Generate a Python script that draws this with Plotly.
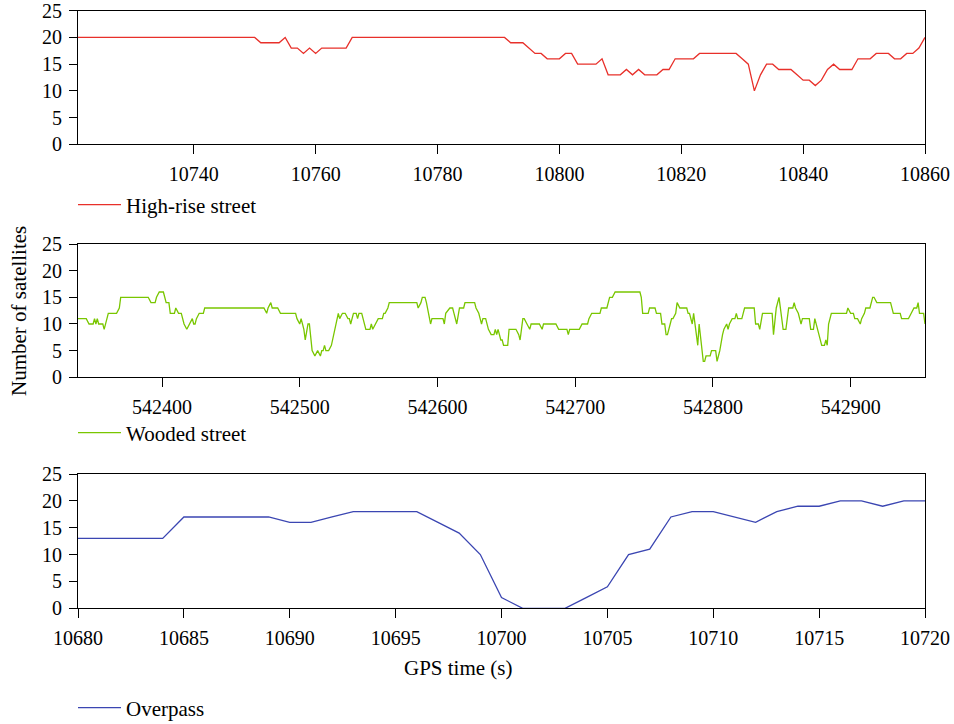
import plotly.graph_objects as go

# ---------------- data ----------------
high_t = [10721, 10750, 10751, 10754, 10755, 10756, 10757, 10758, 10759, 10760, 10761, 10765,
          10766, 10791, 10792, 10794, 10796, 10797, 10798, 10800, 10801, 10802, 10803, 10806,
          10807, 10808, 10810, 10811, 10812, 10813, 10814, 10816, 10817, 10818, 10819, 10822,
          10823, 10829, 10830, 10831, 10832, 10833, 10834, 10835, 10836, 10838, 10839, 10840,
          10841, 10842, 10843, 10844, 10845, 10846, 10848, 10849, 10851, 10852, 10854, 10855,
          10856, 10857, 10858, 10859, 10860]
high_v = [20, 20, 19, 19, 20, 18, 18, 17, 18, 17, 18, 18,
          20, 20, 19, 19, 17, 17, 16, 16, 17, 17, 15, 15,
          16, 13, 13, 14, 13, 14, 13, 13, 14, 14, 16, 16,
          17, 17, 16, 15, 10, 13, 15, 15, 14, 14, 13, 12,
          12, 11, 12, 14, 15, 14, 14, 16, 16, 17, 17, 16,
          16, 17, 17, 18, 20]

wood_t = [542339, 542345, 542347, 542350, 542351, 542352, 542353, 542354, 542357, 542358,
          542361, 542367, 542369, 542370, 542390, 542392, 542395, 542396, 542398, 542401,
          542403, 542405, 542406, 542409, 542410, 542412, 542414, 542416, 542418, 542420,
          542422, 542423, 542424, 542425, 542427, 542430, 542431, 542474, 542476, 542477,
          542479, 542480, 542484, 542486, 542497, 542498, 542500, 542501, 542502, 542503,
          542504, 542506, 542507, 542509, 542511, 542513, 542515, 542516, 542517, 542518,
          542519, 542521, 542523, 542526, 542528, 542529, 542531, 542533, 542535, 542536,
          542537, 542539, 542541, 542542, 542543, 542545, 542548, 542551, 542552, 542553,
          542555, 542557, 542560, 542561, 542562, 542564, 542565, 542585, 542586, 542588,
          542589, 542591, 542592, 542595, 542596, 542604, 542605, 542606, 542609, 542611,
          542612, 542614, 542616, 542619, 542620, 542627, 542628, 542630, 542631, 542632,
          542633, 542635, 542637, 542639, 542641, 542642, 542643, 542644, 542646, 542647,
          542648, 542651, 542652, 542657, 542659, 542660, 542662, 542663, 542665, 542667,
          542668, 542674, 542676, 542677, 542686, 542688, 542694, 542695, 542696, 542703,
          542705, 542709, 542710, 542712, 542718, 542719, 542723, 542725, 542727, 542729,
          542747, 542748, 542749, 542753, 542754, 542758, 542759, 542762, 542763, 542765,
          542766, 542767, 542769, 542770, 542771, 542773, 542774, 542776, 542781, 542782,
          542783, 542785, 542786, 542787, 542788, 542789, 542790, 542792, 542793, 542794,
          542795, 542798, 542799, 542802, 542803, 542804, 542805, 542807, 542808, 542810,
          542811, 542812, 542814, 542816, 542817, 542818, 542821, 542822, 542823, 542830,
          542831, 542833, 542834, 542836, 542843, 542844, 542846, 542848, 542850, 542851,
          542853, 542855, 542858, 542859, 542860, 542862, 542864, 542865, 542867, 542870,
          542871, 542873, 542874, 542876, 542877, 542878, 542879, 542881, 542882, 542883,
          542884, 542886, 542897, 542898, 542900, 542902, 542903, 542905, 542907, 542908,
          542910, 542911, 542914, 542916, 542917, 542919, 542929, 542931, 542936, 542937,
          542942, 542944, 542946, 542948, 542949, 542950, 542953, 542954]
wood_v = [11, 11, 10, 10, 11, 10, 11, 10, 10, 9,
          12, 12, 13, 15, 15, 14, 14, 15, 16, 16,
          14, 14, 12, 12, 13, 12, 12, 10, 9, 10,
          11, 10, 10, 11, 12, 12, 13, 13, 12, 13,
          14, 13, 13, 12, 12, 11, 10, 11, 10, 9,
          7, 10, 10, 5, 4, 5, 4, 5, 5, 6,
          5, 5, 6, 10, 12, 11, 12, 12, 11, 11,
          10, 12, 12, 11, 12, 12, 9, 9, 10, 9,
          10, 11, 11, 12, 12, 13, 14, 14, 13, 14,
          15, 15, 14, 10, 11, 11, 10, 12, 13, 13,
          12, 10, 13, 13, 14, 14, 13, 12, 11, 10,
          11, 11, 9, 8, 8, 9, 8, 9, 7, 7,
          6, 6, 9, 9, 8, 7, 11, 11, 10, 9,
          10, 10, 9, 10, 10, 9, 9, 8, 9, 9,
          10, 10, 11, 12, 12, 13, 13, 15, 15, 16,
          16, 15, 12, 12, 13, 13, 12, 12, 10, 10,
          8, 8, 10, 11, 11, 12, 14, 13, 13, 12,
          12, 10, 12, 10, 8, 6, 10, 6, 3, 3,
          4, 4, 5, 5, 3, 4, 5, 8, 9, 10,
          9, 10, 11, 11, 12, 11, 11, 12, 13, 13,
          10, 10, 9, 12, 12, 8, 13, 15, 11, 9,
          9, 13, 13, 14, 13, 12, 10, 11, 11, 11,
          9, 9, 11, 9, 8, 7, 6, 6, 7, 6,
          10, 12, 12, 13, 12, 12, 11, 11, 10, 11,
          12, 13, 13, 15, 15, 14, 14, 12, 12, 11,
          11, 12, 13, 13, 14, 12, 12, 10]

over_t = list(range(10680, 10721))
over_v = [13, 13, 13, 13, 13, 17, 17, 17, 17, 17,
          16, 16, 17, 18, 18, 18, 18, 16, 14, 10,
          2, 0, 0, 0, 2, 4, 10, 11, 17, 18,
          18, 17, 16, 18, 19, 19, 20, 20, 19, 20,
          20]

series_names = ["High-rise street", "Wooded street", "Overpass"]
colors = ["#e8302a", "#79c600", "#3b46b2"]
top_ticks = [10740, 10760, 10780, 10800, 10820, 10840, 10860]
mid_ticks = [542400, 542500, 542600, 542700, 542800, 542900]
bot_ticks = [10680, 10685, 10690, 10695, 10700, 10705, 10710, 10715, 10720]
y_ticks = [0, 5, 10, 15, 20, 25]

# ---------------- figure ----------------
FONT = "Liberation Serif"
W, H = 954, 724


def fx(px):
    return px / W


def fy(py):
    return (H - py) / H


fig = go.Figure()
fig.add_trace(go.Scatter(x=high_t, y=high_v, mode="lines", name=series_names[0],
                         line=dict(color=colors[0], width=1.3), xaxis="x", yaxis="y",
                         legend="legend"))
fig.add_trace(go.Scatter(x=wood_t, y=wood_v, mode="lines", name=series_names[1],
                         line=dict(color=colors[1], width=1.3), xaxis="x2", yaxis="y2",
                         legend="legend2"))
fig.add_trace(go.Scatter(x=over_t, y=over_v, mode="lines", name=series_names[2],
                         line=dict(color=colors[2], width=1.3), xaxis="x3", yaxis="y3",
                         legend="legend3"))

xdom = [fx(78), fx(925)]
axis_common = dict(showline=True, linecolor="black", linewidth=1.2, mirror=True,
                   ticks="outside", ticklen=9, tickcolor="black", tickwidth=1.2,
                   showgrid=False, zeroline=False, tickformat="d", automargin=False,
                   ticklabeloverflow="allow",
                   tickfont=dict(family=FONT, size=20, color="black"))
xaxis_common = dict(axis_common, domain=xdom, ticklabelstandoff=3)
yaxis_common = dict(axis_common, range=[0, 25], tickvals=y_ticks, ticklen=8,
                    ticklabelstandoff=3)

leg_common = dict(x=fx(73), xanchor="left", yanchor="middle", itemwidth=43,
                  font=dict(family=FONT, size=21, color="black"),
                  bgcolor="rgba(0,0,0,0)")

fig.update_layout(
    width=W, height=H,
    margin=dict(l=0, r=0, t=0, b=0, autoexpand=False),
    plot_bgcolor="white", paper_bgcolor="white",
    font=dict(family=FONT, size=20, color="black"),
    xaxis=dict(xaxis_common, range=[10721, 10860], tickvals=top_ticks, anchor="y"),
    yaxis=dict(yaxis_common, domain=[fy(144.3), fy(10.7)], anchor="x"),
    xaxis2=dict(xaxis_common, range=[542339, 542954], tickvals=mid_ticks, anchor="y2"),
    yaxis2=dict(yaxis_common, domain=[fy(377.3), fy(244)], anchor="x2"),
    xaxis3=dict(xaxis_common, range=[10680, 10720], tickvals=bot_ticks, anchor="y3"),
    yaxis3=dict(yaxis_common, domain=[fy(608.3), fy(474)], anchor="x3"),
    showlegend=True,
    legend=dict(leg_common, y=fy(205)),
    legend2=dict(leg_common, y=fy(433)),
    legend3=dict(leg_common, y=fy(708)),
    annotations=[
        dict(text="Number of satellites", textangle=-90, xref="paper", yref="paper",
             x=fx(19), y=fy(311), xanchor="center", yanchor="middle", showarrow=False,
             font=dict(family=FONT, size=21)),
        dict(text="GPS time (s)", xref="paper", yref="paper",
             x=fx(458), y=fy(668), xanchor="center",
             yanchor="middle", showarrow=False, font=dict(family=FONT, size=21)),
    ],
)

fig.write_html("out.html", config={"displayModeBar": False},
               post_script="document.body.style.margin='0';document.body.style.padding='0';")
